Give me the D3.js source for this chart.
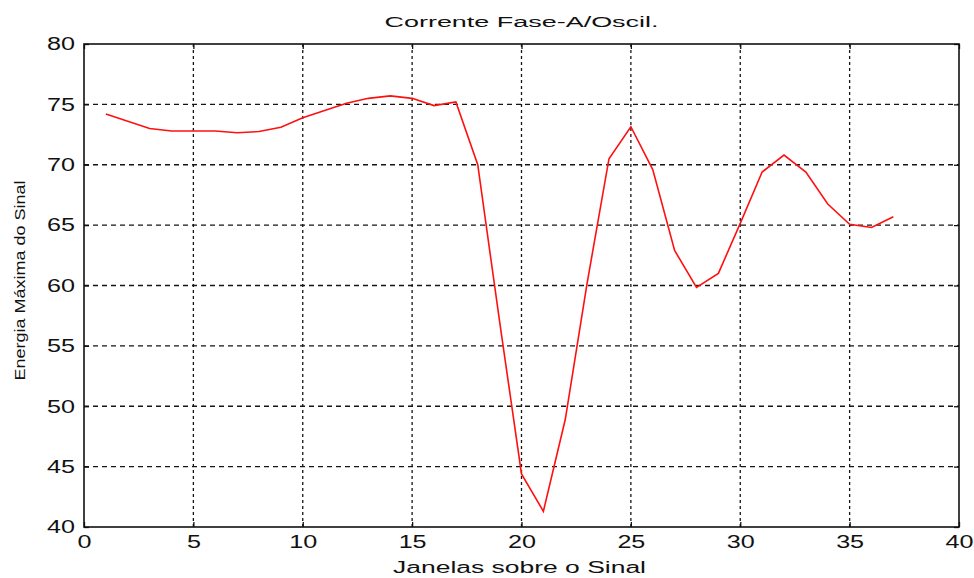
<!DOCTYPE html>
<html>
<head>
<meta charset="utf-8">
<script src="https://cdn.jsdelivr.net/npm/d3@7"></script>
<style>
  html, body { margin: 0; padding: 0; background: #fff; }
  svg text { font-family: "Liberation Sans", Arial, sans-serif; fill: #111; }
</style>
</head>
<body>
<svg id="chart" width="974" height="578"></svg>
<script>
// Window index along the signal
const windows = [1, 2, 3, 4, 5, 6, 7, 8, 9, 10, 11, 12, 13, 14, 15, 16, 17, 18, 19,
                 20, 21, 22, 23, 24, 25, 26, 27, 28, 29, 30, 31, 32, 33, 34, 35, 36, 37];
// Maximum energy of the signal in each window
const energy = [74.2, 73.6, 73.0, 72.8, 72.8, 72.8, 72.65, 72.75, 73.1, 73.9, 74.5,
                75.1, 75.5, 75.7, 75.5, 74.9, 75.2, 70.0, 57.0, 44.4, 41.3, 48.9,
                60.2, 70.5, 73.15, 69.6, 62.9, 59.85, 61.0, 65.15, 69.4, 70.8, 69.4,
                66.75, 65.07, 64.8, 65.7];
const xTicks = [0, 5, 10, 15, 20, 25, 30, 35, 40];
const yTicks = [40, 45, 50, 55, 60, 65, 70, 75, 80];
const titleText = "Corrente Fase-A/Oscil.";
const xLabel = "Janelas sobre o Sinal";
const yLabel = "Energia Máxima do Sinal";

const svg = d3.select("#chart");
const plotLeft = 84, plotRight = 959, plotTop = 44, plotBottom = 527;

const x = d3.scaleLinear().domain([0, 40]).range([plotLeft, plotRight]);
const y = d3.scaleLinear().domain([40, 80]).range([plotBottom, plotTop]);

// Grid lines
const grid = svg.append("g");
grid.selectAll("line.v").data(xTicks.slice(1, -1)).join("line")
  .attr("class", "v")
  .attr("x1", d => x(d)).attr("x2", d => x(d))
  .attr("y1", plotTop).attr("y2", plotBottom)
  .attr("stroke", "#151515").attr("stroke-width", 1.3)
  .attr("stroke-dasharray", "3,3");
grid.selectAll("line.h").data(yTicks.slice(1, -1)).join("line")
  .attr("class", "h")
  .attr("x1", plotLeft).attr("x2", plotRight)
  .attr("y1", d => y(d)).attr("y2", d => y(d))
  .attr("stroke", "#151515").attr("stroke-width", 1.3)
  .attr("stroke-dasharray", "5,4");

// Axes with inward ticks
const fmt = d3.format("d");
const xAxis = svg.append("g").attr("transform", `translate(0,${plotBottom})`)
  .call(d3.axisBottom(x).tickValues(xTicks).tickSize(-5).tickPadding(10).tickFormat(fmt));
const xAxisTop = svg.append("g").attr("transform", `translate(0,${plotTop})`)
  .call(d3.axisTop(x).tickValues(xTicks).tickSize(-5).tickFormat(""));
const yAxis = svg.append("g").attr("transform", `translate(${plotLeft},0)`)
  .call(d3.axisLeft(y).tickValues(yTicks).tickSize(-5).tickPadding(10).tickFormat(fmt));
const yAxisRight = svg.append("g").attr("transform", `translate(${plotRight},0)`)
  .call(d3.axisRight(y).tickValues(yTicks).tickSize(-5).tickFormat(""));

[xAxis, xAxisTop, yAxis, yAxisRight].forEach(g => {
  g.select(".domain").remove();
  g.selectAll(".tick line").attr("stroke", "#111").attr("stroke-width", 1.3);
});

xAxis.selectAll(".tick text")
  .attr("font-size", 18).attr("dy", "0.71em").attr("y", 8)
  .attr("textLength", d => String(d).length * 14)
  .attr("lengthAdjust", "spacingAndGlyphs");
yAxis.selectAll(".tick text")
  .attr("font-size", 18).attr("x", -37).attr("text-anchor", "start")
  .attr("textLength", d => String(d).length * 14)
  .attr("lengthAdjust", "spacingAndGlyphs");

// Frame
svg.append("rect")
  .attr("x", plotLeft).attr("y", plotTop)
  .attr("width", plotRight - plotLeft).attr("height", plotBottom - plotTop)
  .attr("fill", "none").attr("stroke", "#111").attr("stroke-width", 1.6);

// Energy curve
const line = d3.line().x((d, i) => x(windows[i])).y(d => y(d));
svg.append("path")
  .datum(energy)
  .attr("d", line)
  .attr("fill", "none")
  .attr("stroke", "#ff1010")
  .attr("stroke-width", 1.6);

// Titles
svg.append("text")
  .attr("x", (plotLeft + plotRight) / 2).attr("y", 27)
  .attr("text-anchor", "middle").attr("font-size", 14)
  .attr("textLength", 274).attr("lengthAdjust", "spacingAndGlyphs")
  .text(titleText);

svg.append("text")
  .attr("x", (plotLeft + plotRight) / 2 - 2).attr("y", 573)
  .attr("text-anchor", "middle").attr("font-size", 16)
  .attr("textLength", 253).attr("lengthAdjust", "spacingAndGlyphs")
  .text(xLabel);

svg.append("text")
  .attr("transform", `translate(25,${(plotTop + plotBottom) / 2 - 5}) rotate(-90)`)
  .attr("text-anchor", "middle").attr("font-size", 15)
  .attr("textLength", 200).attr("lengthAdjust", "spacingAndGlyphs")
  .text(yLabel);
</script>
</body>
</html>
